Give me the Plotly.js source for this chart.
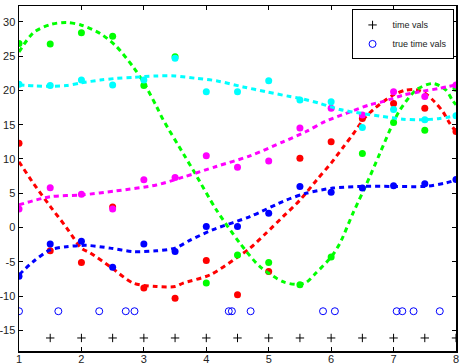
<!DOCTYPE html>
<html>
<head>
<meta charset="utf-8">
<script src="https://cdn.plot.ly/plotly-3.0.1.min.js"></script>
<style>html,body{margin:0;padding:0;background:#fff}#plot{width:460px;height:364px}</style>
</head>
<body>
<div id="plot"></div>
<script>
// sample times
var timeVals = [1.5, 2, 2.5, 3, 3.5, 4, 4.5, 5, 5.5, 6, 6.5, 7, 7.5, 8];
var timeLevel = [-16.1, -16.1, -16.1, -16.1, -16.1, -16.1, -16.1, -16.1, -16.1, -16.1, -16.1, -16.1, -16.1, -16.1];
var trueTimeVals = [1.0, 1.63, 2.285, 2.71, 2.85, 4.36, 4.41, 4.71, 5.87, 6.06, 7.05, 7.14, 7.32, 7.74];
var trueLevel = [-12.2, -12.2, -12.2, -12.2, -12.2, -12.2, -12.2, -12.2, -12.2, -12.2, -12.2, -12.2, -12.2, -12.2];

// observed points
var obsX = [1, 1.5, 2, 2.5, 3, 3.5, 4, 4.5, 5, 5.5, 6, 6.5, 7, 7.5, 8];
var redObs = [12.3, -3.4, -5.1, 3.0, -8.8, -10.3, -4.8, -9.8, -6.4, 10.1, 12.5, 15.9, 18.1, 17.4, 14.0];
var greenObs = [26.85, 26.75, 28.4, 27.9, 20.7, 24.9, -8.1, -4.0, -5.1, -8.35, -4.3, 10.8, 15.3, 14.2, 20.3];
var blueObs = [-7.1, -2.4, -2.0, -5.8, -2.4, -3.5, 0.15, 0.15, 2.1, 6.0, 5.15, 5.75, 6.1, 6.4, 7.0];
var magentaObs = [2.7, 5.8, 4.85, 2.7, 6.95, 7.3, 10.45, 8.8, 9.7, 14.5, 17.4, 16.4, 19.8, 19.1, 20.8];
var cyanObs = [20.9, 20.7, 21.5, 20.8, 21.5, 24.7, 19.8, 19.8, 21.4, 18.6, 18.35, 14.6, 17.2, 15.7, 16.3];

// fitted curves
var redFitX = [1.0, 1.23, 1.5, 1.76, 2.0, 2.14, 2.46, 2.83, 3.2, 3.5, 3.63, 4.06, 4.48, 4.7, 4.96, 5.23, 5.5, 5.77, 6.0, 6.2, 6.35, 6.54, 6.7, 6.99, 7.18, 7.36, 7.5, 7.66, 7.79, 7.9, 8.0];
var redFitY = [9.6, 6.45, 3.1, 0.0, -3.0, -3.7, -5.7, -8.1, -8.6, -8.6, -8.1, -6.9, -4.45, -3.0, -0.8, 1.6, 4.0, 6.95, 9.4, 11.8, 13.6, 16.0, 17.4, 19.3, 20.0, 20.1, 19.6, 18.3, 16.9, 15.2, 14.0];
var greenFitX = [1.0, 1.23, 1.5, 1.76, 2.0, 2.3, 2.56, 2.83, 3.0, 3.2, 3.31, 3.63, 3.82, 4.16, 4.54, 4.86, 5.23, 5.45, 5.6, 5.76, 6.0, 6.14, 6.35, 6.56, 6.78, 6.99, 7.1, 7.36, 7.63, 7.84, 7.94, 8.0];
var greenFitY = [25.6, 28.4, 29.6, 29.9, 29.5, 28.3, 26.4, 23.4, 21.1, 17.7, 15.7, 10.8, 7.9, 2.6, -2.3, -5.7, -7.9, -8.3, -8.0, -6.6, -4.3, -2.3, 2.1, 6.2, 10.8, 15.2, 17.1, 20.05, 21.0, 20.05, 18.6, 17.9];
var blueFitX = [1.0, 1.23, 1.5, 1.76, 2.08, 2.46, 2.83, 3.2, 3.5, 3.75, 4.11, 4.7, 5.28, 5.6, 6.03, 6.51, 7.0, 7.5, 7.84, 8.0];
var blueFitY = [-6.9, -4.95, -3.25, -2.8, -2.6, -3.0, -3.5, -3.4, -3.0, -1.8, -0.3, 1.6, 4.0, 5.0, 5.75, 6.0, 6.0, 6.0, 6.5, 6.95];
var magentaFitX = [1.0, 1.5, 2.0, 2.56, 3.2, 3.63, 4.16, 4.7, 5.23, 5.6, 5.9, 6.24, 6.62, 6.83, 7.15, 7.42, 7.74, 8.0];
var magentaFitY = [3.3, 4.5, 4.75, 5.35, 6.2, 7.35, 8.9, 10.45, 12.5, 14.0, 15.45, 16.65, 17.9, 18.35, 19.3, 19.8, 20.3, 20.8];
var cyanFitX = [1.0, 1.25, 1.5, 1.76, 2.0, 2.3, 2.56, 2.83, 3.2, 3.5, 3.84, 4.16, 4.59, 4.96, 5.34, 5.5, 5.82, 6.14, 6.48, 6.83, 7.15, 7.42, 7.74, 8.0];
var cyanFitY = [20.8, 20.65, 20.6, 20.7, 21.1, 21.5, 21.75, 21.9, 22.1, 22.1, 21.75, 21.4, 20.5, 19.8, 19.1, 18.85, 18.1, 17.2, 16.65, 16.2, 15.8, 15.7, 15.9, 16.3];

var xTicks = [1, 2, 3, 4, 5, 6, 7, 8];
var yTicks = [-15, -10, -5, 0, 5, 10, 15, 20, 25, 30];

var series = [
  {c: '#ff0000', fx: redFitX, fy: redFitY, oy: redObs},
  {c: '#00ff00', fx: greenFitX, fy: greenFitY, oy: greenObs},
  {c: '#0000ff', fx: blueFitX, fy: blueFitY, oy: blueObs},
  {c: '#ff00ff', fx: magentaFitX, fy: magentaFitY, oy: magentaObs},
  {c: '#00ffff', fx: cyanFitX, fy: cyanFitY, oy: cyanObs}
];

var traces = [];
series.forEach(function (s) {
  traces.push({x: s.fx, y: s.fy, mode: 'lines', showlegend: false, hoverinfo: 'skip',
    line: {color: s.c, width: 3, dash: '5px,4px', shape: 'spline', smoothing: 0.8}});
  traces.push({x: obsX, y: s.oy, mode: 'markers', showlegend: false,
    marker: {color: s.c, size: 7, symbol: 'circle'}});
});
traces.push({x: timeVals, y: timeLevel, mode: 'markers', name: 'time vals',
  marker: {symbol: 'cross-thin-open', size: 6, color: '#000', line: {color: '#000', width: 1}}});
traces.push({x: trueTimeVals, y: trueLevel, mode: 'markers', name: 'true time vals',
  marker: {symbol: 'circle-open', size: 7, color: '#0000ff', line: {color: '#0000ff', width: 1}}});

var axisCommon = {
  showline: true, linecolor: '#000', linewidth: 1.5, mirror: 'ticks',
  ticks: 'inside', ticklen: 4, tickcolor: '#000', tickwidth: 1,
  showgrid: false, zeroline: false,
  tickfont: {family: 'Liberation Sans, Arial, sans-serif', size: 11, color: '#222'}
};

var layout = {
  width: 460, height: 364,
  margin: {l: 19, r: 4, t: 6, b: 13, pad: 0},
  paper_bgcolor: '#fff', plot_bgcolor: '#fff',
  showlegend: true,
  legend: {x: 0.761, y: 0.99, xanchor: 'left', yanchor: 'top',
    bgcolor: '#fff', bordercolor: '#000', borderwidth: 1,
    font: {family: 'Liberation Sans, Arial, sans-serif', size: 9, color: '#222'},
    tracegroupgap: 0},
  xaxis: Object.assign({}, axisCommon, {range: [1, 8], tickvals: xTicks, ticktext: xTicks.map(String), ticklabelstandoff: -3}),
  yaxis: Object.assign({}, axisCommon, {range: [-18, 32.3], tickvals: yTicks, ticktext: yTicks.map(String)})
};

Plotly.newPlot('plot', traces, layout, {displayModeBar: false, staticPlot: true});
</script>
</body>
</html>
